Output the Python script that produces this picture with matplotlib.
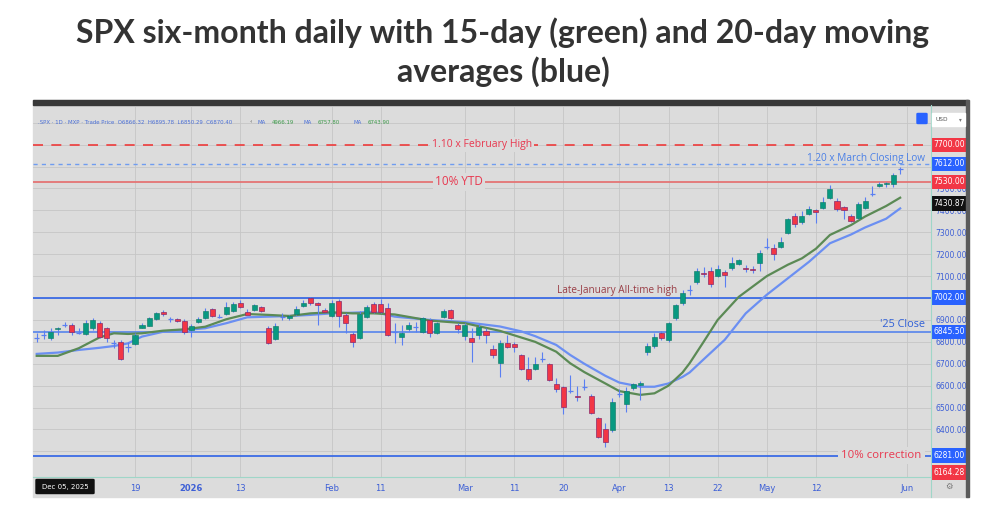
# SPX six-month daily candles with 15/20-day moving averages and key levels
import numpy as np
import pandas as pd
import matplotlib
matplotlib.use("Agg")
import matplotlib.pyplot as plt
from matplotlib.patches import Rectangle, FancyBboxPatch
from matplotlib.lines import Line2D

# Trading days Dec 1 2025 - May 29 2026
holidays = pd.to_datetime(["2025-12-25", "2026-01-01", "2026-01-19",
                           "2026-02-16", "2026-04-03", "2026-05-25"])
dates = pd.bdate_range("2025-12-01", "2026-05-29")
dates = dates[~dates.isin(holidays)]

opens = [6818, 6830, 6816, 6857, 6877, 6877, 6839, 6835, 6862, 6887,
         6862, 6793, 6801, 6778, 6789, 6865, 6874, 6904, 6938, 6904,
         6903, 6895, 6854, 6892, 6908, 6949, 6915, 6926, 6941, 6976,
         6938, 6945, 6958, 6865, 6813, 6915, 6907, 6926, 6965, 6999,
         6976, 6945, 6919, 6988, 6923, 6836, 6819, 6915, 6973, 6973,
         6956, 6846, 6821, 6857, 6869, 6846, 6900, 6842, 6915, 6945,
         6877, 6827, 6816, 6831, 6851, 6767, 6702, 6793, 6789, 6740,
         6675, 6675, 6720, 6699, 6606, 6595, 6576, 6554, 6595, 6553,
         6451, 6401, 6398, 6562, 6516, 6588, 6603, 6755, 6783, 6839,
         6808, 6908, 6976, 7037, 7075, 7116, 7123, 7100, 7120, 7136,
         7154, 7136, 7134, 7161, 7234, 7227, 7234, 7295, 7375, 7345,
         7383, 7402, 7409, 7455, 7443, 7414, 7374, 7367, 7410, 7473,
         7511, 7519, 7520, 7590]
highs = [6841, 6852, 6862, 6869, 6892, 6885, 6862, 6900, 6907, 6894,
         6869, 6808, 6808, 6801, 6839, 6885, 6915, 6938, 6945, 6915,
         6908, 6903, 6880, 6915, 6953, 6955, 6925, 6983, 6983, 6990,
         6950, 6975, 6965, 6872, 6885, 6930, 6922, 6965, 6992, 7003,
         6983, 6953, 6992, 6996, 6930, 6847, 6940, 6970, 6983, 6995,
         6976, 6885, 6877, 6890, 6892, 6915, 6910, 6892, 6950, 6952,
         6885, 6885, 6862, 6880, 6862, 6785, 6808, 6832, 6800, 6745,
         6730, 6730, 6755, 6705, 6635, 6600, 6648, 6600, 6630, 6560,
         6455, 6428, 6545, 6585, 6595, 6610, 6620, 6793, 6840, 6850,
         6890, 6975, 7037, 7060, 7135, 7140, 7140, 7150, 7128, 7185,
         7180, 7150, 7148, 7220, 7273, 7248, 7280, 7365, 7388, 7395,
         7420, 7408, 7462, 7516, 7455, 7420, 7385, 7440, 7462, 7511,
         7530, 7530, 7570, 7600]
lows = [6799, 6815, 6808, 6831, 6868, 6831, 6835, 6831, 6854, 6816,
        6801, 6772, 6717, 6755, 6786, 6862, 6874, 6900, 6920, 6892,
        6890, 6838, 6824, 6888, 6905, 6912, 6908, 6922, 6938, 6955,
        6930, 6940, 6935, 6790, 6808, 6900, 6900, 6922, 6960, 6970,
        6877, 6935, 6912, 6870, 6840, 6778, 6815, 6910, 6930, 6930,
        6825, 6793, 6785, 6850, 6847, 6840, 6823, 6835, 6910, 6905,
        6840, 6808, 6710, 6815, 6793, 6725, 6638, 6770, 6755, 6670,
        6622, 6670, 6710, 6620, 6570, 6471, 6565, 6530, 6580, 6470,
        6360, 6322, 6390, 6550, 6480, 6580, 6535, 6740, 6770, 6810,
        6800, 6900, 6970, 7015, 7065, 7095, 7050, 7095, 7052, 7130,
        7150, 7120, 7115, 7123, 7225, 7175, 7230, 7290, 7325, 7340,
        7378, 7341, 7405, 7450, 7395, 7360, 7345, 7362, 7405, 7465,
        7505, 7505, 7505, 7568]
closes = [6818, 6830, 6846, 6865, 6877, 6846, 6839, 6885, 6900, 6824,
          6816, 6793, 6722, 6778, 6831, 6877, 6908, 6930, 6926, 6904,
          6895, 6843, 6874, 6903, 6942, 6918, 6915, 6960, 6971, 6960,
          6923, 6968, 6941, 6793, 6874, 6915, 6918, 6950, 6976, 6976,
          6968, 6938, 6976, 6919, 6885, 6801, 6926, 6960, 6938, 6938,
          6831, 6846, 6839, 6877, 6869, 6907, 6839, 6885, 6942, 6910,
          6857, 6877, 6801, 6866, 6831, 6740, 6793, 6778, 6775, 6675,
          6629, 6699, 6720, 6626, 6584, 6504, 6576, 6550, 6595, 6477,
          6367, 6345, 6527, 6562, 6577, 6606, 6614, 6781, 6824, 6816,
          6885, 6968, 7022, 7037, 7123, 7108, 7063, 7132, 7105, 7161,
          7174, 7131, 7130, 7204, 7234, 7200, 7257, 7360, 7336, 7374,
          7405, 7391, 7440, 7497, 7406, 7402, 7352, 7429, 7443, 7473,
          7519, 7526, 7561, 7590]

# moving averages (trading-day index, value)
ma15_idx = [0, 3, 6, 9, 11, 13, 15, 18, 21, 24, 27, 30, 33, 36, 39, 42, 45, 48,
            51, 56, 61, 66, 69, 71, 74, 76, 78, 81, 83, 86, 88, 90, 92, 93, 95,
            97, 100, 104, 107, 109, 111, 113, 116, 118, 121, 123]
ma15_val = [6736, 6736, 6771, 6821, 6839, 6836, 6839, 6851, 6857, 6869, 6903,
            6927, 6923, 6918, 6930, 6935, 6930, 6930, 6925, 6897, 6885, 6850,
            6820, 6800, 6755, 6702, 6662, 6610, 6575, 6558, 6565, 6600, 6660,
            6702, 6800, 6900, 7005, 7100, 7152, 7181, 7225, 7288, 7333, 7372,
            7420, 7458]
ma20_idx = [0, 3, 6, 9, 11, 13, 15, 18, 21, 24, 27, 30, 33, 36, 39, 42, 45, 48,
            51, 56, 61, 66, 69, 71, 74, 76, 78, 81, 83, 86, 88, 90, 92, 93, 95,
            98, 101, 104, 107, 110, 113, 116, 118, 121, 123]
ma20_val = [6745, 6751, 6763, 6773, 6781, 6793, 6824, 6846, 6854, 6862, 6885,
            6912, 6915, 6918, 6923, 6930, 6933, 6937, 6915, 6900, 6890, 6870,
            6848, 6826, 6786, 6740, 6700, 6645, 6614, 6595, 6595, 6610, 6640,
            6660, 6720, 6809, 6930, 7015, 7090, 7165, 7250, 7290, 7322, 7362,
            7409]

tick_dates = ["2025-12-19", "2026-01-02", "2026-01-13", "2026-02-02", "2026-02-11",
              "2026-03-02", "2026-03-11", "2026-03-20", "2026-04-01", "2026-04-13",
              "2026-04-22", "2026-05-01", "2026-05-12", "2026-06-01"]
tick_labels = ["19", "2026", "13", "Feb", "11", "Mar", "11", "20", "Apr", "13",
               "22", "May", "12", "Jun"]
price_ticks = [6300, 6400, 6500, 6600, 6700, 6800, 6900, 7000, 7100, 7200,
               7300, 7400, 7500, 7600, 7700, 7800]
# axis labels hidden behind the coloured price badges
hidden_ticks = [6300, 7000, 7600, 7700, 7800]

W, H = 1006, 524
fig = plt.figure(figsize=(W / 100, H / 100), dpi=100)
fig.patch.set_facecolor("white")


def fx(px):
    return px / W


def fy(py):
    return 1 - py / H


BG = "#dcdcdc"
BLUE_TXT = "#3d5fd6"
GREEN = "#089981"
RED = "#f23645"

# chart panel background, toolbar, borders
fig.add_artist(Rectangle((fx(33), fy(497)), fx(968) - fx(33), fy(100) - fy(497),
                         transform=fig.transFigure, color=BG, zorder=-2))
fig.add_artist(Rectangle((fx(33), fy(105)), fx(968) - fx(33), fy(100) - fy(105),
                         transform=fig.transFigure, color="#383838", zorder=1))
fig.add_artist(Rectangle((fx(966), fy(497)), fx(969) - fx(966), fy(100) - fy(497),
                         transform=fig.transFigure, color="#5a5a5a", zorder=1))
fig.add_artist(Line2D([fx(930.7)] * 2, [fy(105), fy(497)], color="#9fd6c8", lw=0.8,
                      transform=fig.transFigure, zorder=1))

ax = fig.add_axes([fx(33), fy(477), fx(930.7) - fx(33), fy(107) - fy(477)])
ax.set_facecolor(BG)
ax.set_xlim(-0.53, 127.35)
ax.set_ylim(6183, 7872)
for s in ["top", "left", "right"]:
    ax.spines[s].set_visible(False)
ax.spines["bottom"].set_color("#9fd6c8")
ax.spines["bottom"].set_linewidth(0.8)

x = np.arange(len(dates))
o = np.array(opens, float)
h = np.array(highs, float)
l = np.array(lows, float)
c = np.array(closes, float)

# ticks and grid
tick_pos = [dates.get_loc(pd.Timestamp(d)) if pd.Timestamp(d) in dates else len(dates)
            for d in tick_dates]
ax.set_xticks(tick_pos)
ax.set_xticklabels(tick_labels)
for lab in ax.get_xticklabels():
    if lab.get_text() == "2026":
        lab.set_fontweight("bold")
ax.tick_params(axis="x", length=0, pad=5, labelsize=6, labelcolor=BLUE_TXT)
ax.yaxis.tick_right()
ax.set_yticks(price_ticks)
ax.set_yticklabels(["" if v in hidden_ticks else f"{v:.2f}" for v in price_ticks])
ax.tick_params(axis="y", length=0, pad=3.5, labelsize=5.5, labelcolor=BLUE_TXT)
ax.grid(True, color="#c6c6c6", lw=0.6, zorder=0)
ax.set_axisbelow(True)

# key levels
ax.axhline(7700, color="#ee3b3b", lw=1.2, ls=(0, (6, 5)), zorder=2)
ax.axhline(7612, color="#6f9cf0", lw=1.0, ls=(0, (3, 3)), zorder=2)
ax.axhline(7530, color="#e47474", lw=1.3, zorder=2)
ax.axhline(7002, color="#2f62e6", lw=1.2, zorder=2)
ax.axhline(6845.5, color="#5684ec", lw=1.2, zorder=2)
ax.axhline(6281, color="#2f62e6", lw=1.2, zorder=2)

lbl = dict(family="Open Sans", zorder=6)
ax.text(63.4, 7700, "1.10 x February High", color="#e8384f", fontsize=7.5, ha="center",
        va="center", bbox=dict(fc=BG, ec="none", pad=1.5), **lbl)
ax.text(126.5, 7614, "1.20 x March Closing Low", color="#4a7fe6", fontsize=7.2, ha="right",
        va="bottom", **lbl)
ax.text(60.2, 7530, "10% YTD", color="#e8384f", fontsize=8.5, ha="center", va="center",
        bbox=dict(fc=BG, ec="none", pad=1.5), **lbl)
ax.text(74.1, 7008, "Late-January All-time high", color="#9a3e46", fontsize=7.2, ha="left",
        va="bottom", **lbl)
ax.text(126.5, 6852, "'25 Close", color="#2f5fd6", fontsize=7.8, ha="right", va="bottom",
        **lbl)
ax.text(126.0, 6281, "10% correction", color="#e8384f", fontsize=8.2, ha="right",
        va="center", bbox=dict(fc=BG, ec="none", pad=2.5), **lbl)

# moving averages
ax.plot(ma20_idx, ma20_val, color="#6b8ff2", lw=1.6, zorder=3)
ax.plot(ma15_idx, ma15_val, color="#5b8a55", lw=1.6, zorder=3.2)

# candles
ax.vlines(x, l, h, color="#5a7ff2", lw=0.8, zorder=4)
up = c > o
down = c < o
flat = c == o
ax.bar(x[up], (c - o)[up], bottom=o[up], width=0.72, color=GREEN,
       edgecolor="#0b7460", linewidth=0.4, zorder=5)
ax.bar(x[down], (o - c)[down], bottom=c[down], width=0.72, color=RED,
       edgecolor="#8a2a6a", linewidth=0.5, zorder=5)
ax.hlines(o[flat], x[flat] - 0.36, x[flat] + 0.36, color="#5a7ff2", lw=0.9, zorder=5)

# price-axis badges
ylo = ax.get_ylim()[0]
badges = [(7700, "7700.00", RED), (7612, "7612.00", "#2962ff"), (7530, "7530.00", RED),
          (7430.87, "7430.87", "#111111"), (7002, "7002.00", "#2962ff"),
          (6845.5, "6845.50", "#2962ff"), (6281, "6281.00", "#2962ff"),
          (6164.28, "6164.28", RED)]
for val, txt, col in badges:
    ax.text(1.003, max(val, ylo + 20), txt, transform=ax.get_yaxis_transform(),
            fontsize=5.5, color="white", ha="left", va="center", clip_on=False,
            bbox=dict(boxstyle="square,pad=0.35", fc=col, ec="none"), zorder=7)

# top-right controls
fig.add_artist(Rectangle((fx(932), fy(126)), fx(965) - fx(932), fy(113) - fy(126),
                         transform=fig.transFigure, color="white", zorder=2))
fig.text(fx(935), fy(119.5), "USD", fontsize=4.2, color="#555555", va="center")
fig.text(fx(959), fy(119.5), "▾", fontsize=4, color="#777777", va="center")
fig.add_artist(FancyBboxPatch((fx(918), fy(123)), fx(926) - fx(918), fy(114) - fy(123),
                              boxstyle="round,pad=0.001", transform=fig.transFigure,
                              color="#2962ff", zorder=2))

# legend row
fig.text(fx(38), fy(122), ".SPX · 1D · MXP · Trade Price  O6866.32  H6895.78  L6850.29  C6870.40",
         fontsize=3.9, color="#4a6fd8", va="center")
fig.text(fx(249), fy(122), "‹", fontsize=4.5, color="#555555", va="center")
for px, val in [(258, "4966.19"), (304, "6757.80"), (354, "6743.90")]:
    fig.text(fx(px), fy(122), "MA", fontsize=3.9, color="#4a6fd8", va="center")
    fig.text(fx(px + 14), fy(122), val, fontsize=3.9, color="#3d9a4a", va="center")

# date tooltip and settings icon
fig.add_artist(FancyBboxPatch((fx(37), fy(493)), fx(93) - fx(37), fy(480) - fy(493),
                              boxstyle="round,pad=0.001", transform=fig.transFigure,
                              color="#111111", zorder=3))
fig.text(fx(65), fy(486.5), "Dec 05, 2025", fontsize=5, color="white", ha="center",
         va="center", zorder=4)
fig.text(fx(949), fy(486.5), "⚙", fontsize=6, color="#777777", ha="center", va="center")

# title
title_kw = dict(ha="center", va="center", fontsize=23, fontweight="bold",
                family="Lato", color="#333333")
fig.text(0.5, fy(33), "SPX six-month daily with 15-day (green) and 20-day moving", **title_kw)
fig.text(0.5, fy(72), "averages (blue)", **title_kw)

fig.savefig("out.png", dpi=100, facecolor="white")
